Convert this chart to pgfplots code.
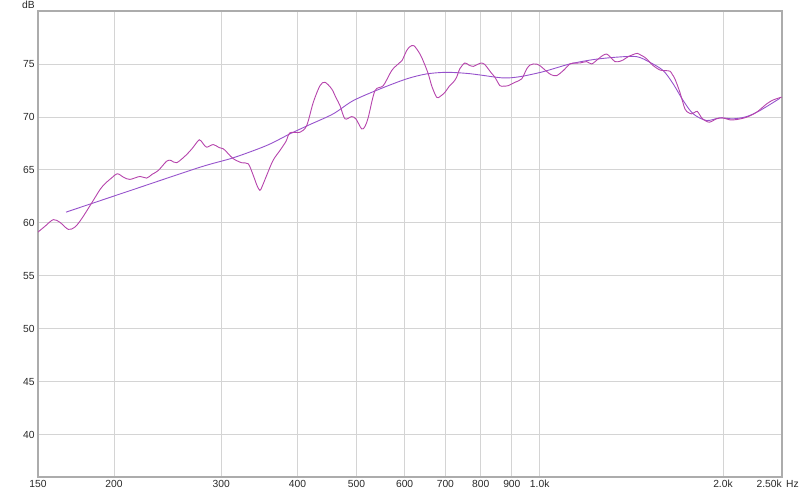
\documentclass[border=0pt]{standalone}
\usepackage{pgfplots}
\pgfplotsset{compat=1.18}
\usepackage{fontspec}
\setmainfont{Liberation Sans}
\definecolor{rawc}{RGB}{182,68,172}
\definecolor{smoothc}{RGB}{150,82,204}
\definecolor{gridc}{RGB}{212,212,212}
\definecolor{framec}{RGB}{172,172,172}
\definecolor{labelc}{RGB}{40,40,40}
\begin{document}
\begin{tikzpicture}
\begin{axis}[
  scale only axis, width=744pt, height=466pt,
  xmode=log, xmin=150, xmax=2500, ymin=36, ymax=80,
  xtick={150,200,300,400,500,600,700,800,900,1000,2000,2500},
  xticklabels={150,200,300,400,500,600,700,800,900,1.0k,2.0k,},
  ytick={40,45,50,55,60,65,70,75},
  grid=major, major grid style={gridc, line width=0.8pt},
  major tick length=0pt,
  axis line style={framec, line width=1.6pt},
  tick label style={font=\fontsize{10.3}{12}\selectfont, text=labelc},
  /pgf/number format/assume math mode=true,
  clip=true,
]
\addplot[smoothc, line width=0.9pt, smooth, no marks] table {
166.8 61.01
214.8 63.13
276.8 65.25
313.9 66.14
356.1 67.30
389.0 68.40
419.5 69.28
458.1 70.29
494.1 71.54
546.6 72.64
604.6 73.59
652.3 74.06
703.4 74.21
758.6 74.11
797.8 73.96
871.1 73.68
928.2 73.80
1013.3 74.27
1121.1 75.00
1224.3 75.41
1337.5 75.64
1442.8 75.69
1517.1 75.15
1595.4 74.37
1656.9 73.11
1720.5 71.54
1786.8 70.29
1879.7 69.66
1976.9 69.91
2078.7 69.82
2186.5 70.03
2299.5 70.60
2480.7 71.76
};
\addplot[rawc, line width=0.9pt, smooth, no marks] table {
150.0 59.13
154.0 59.67
158.9 60.30
163.0 60.04
168.2 59.38
172.5 59.60
177.1 60.42
184.9 62.12
189.7 63.15
193.2 63.69
197.7 64.19
202.5 64.63
207.6 64.28
212.4 64.10
220.6 64.38
226.2 64.22
230.8 64.57
236.4 64.94
244.0 65.82
248.0 65.89
253.4 65.67
263.2 66.45
269.5 67.11
276.0 67.84
279.9 67.49
283.8 67.14
291.0 67.39
297.4 67.11
302.3 66.99
307.7 66.55
313.9 66.05
324.0 65.67
332.2 65.57
338.6 64.47
343.3 63.53
347.2 63.06
351.2 63.62
356.1 64.47
364.8 65.89
374.5 66.83
383.1 67.68
389.0 68.50
403.9 68.55
414.3 69.18
424.8 71.38
435.7 72.95
444.0 73.27
455.4 72.64
462.8 71.82
469.9 71.07
478.8 69.82
491.1 70.03
499.2 69.80
510.0 68.87
516.4 69.09
523.0 69.97
536.4 72.48
553.5 72.95
571.3 74.37
585.7 75.00
594.0 75.31
604.6 76.25
612.2 76.63
621.6 76.72
635.9 75.94
645.5 75.12
656.2 74.06
665.4 72.86
677.4 71.85
685.8 71.92
698.9 72.32
709.6 72.86
721.2 73.27
730.0 73.71
739.6 74.56
753.7 75.09
765.3 74.89
777.9 74.77
791.8 74.98
803.0 75.09
813.0 74.93
823.2 74.53
833.3 74.13
844.3 73.74
860.3 72.95
873.5 72.91
887.8 72.95
910.7 73.27
934.1 73.59
951.9 74.53
963.8 74.89
975.9 75.00
989.7 74.98
1000.9 74.84
1026.5 74.30
1043.4 73.99
1066.0 73.90
1093.1 74.37
1121.1 75.00
1142.5 75.08
1164.4 75.09
1194.2 75.22
1217.0 75.00
1247.6 75.47
1267.6 75.78
1287.9 75.94
1306.8 75.64
1329.3 75.22
1354.6 75.25
1371.5 75.38
1397.7 75.69
1422.7 75.88
1446.1 76.00
1466.2 75.83
1488.6 75.62
1511.4 75.26
1536.0 74.84
1575.4 74.43
1605.7 74.37
1636.3 74.32
1651.9 73.99
1667.6 73.59
1699.3 72.32
1731.7 70.76
1754.7 70.41
1776.2 70.29
1795.0 70.41
1814.1 70.53
1832.7 70.17
1851.6 69.82
1898.2 69.50
1952.0 69.82
1997.0 69.91
2052.9 69.72
2105.6 69.75
2186.5 69.97
2270.5 70.44
2359.2 71.23
2415.9 71.59
2496.7 71.87
};
\coordinate (ll) at (rel axis cs:0,0);
\coordinate (ur) at (rel axis cs:1,1);
\coordinate (lr) at (rel axis cs:1,0);
\coordinate (ul) at (rel axis cs:0,1);
\end{axis}
\node[anchor=north east, inner sep=0pt, font=\fontsize{10.3}{12}\selectfont, text=labelc] at ([yshift=-3.3pt]lr) {2.50k};
\node[anchor=north west, inner sep=0pt, font=\fontsize{10.3}{12}\selectfont, text=labelc] at ([xshift=4pt,yshift=-3.3pt]lr) {Hz};
\node[anchor=base east, inner sep=0pt, font=\fontsize{10.3}{12}\selectfont, text=labelc] at ([xshift=-3pt,yshift=2pt]ul) {dB};
\path[use as bounding box] ([xshift=-38pt,yshift=-17pt]ll) rectangle ([xshift=18pt,yshift=11pt]ur);
\end{tikzpicture}
\end{document}
